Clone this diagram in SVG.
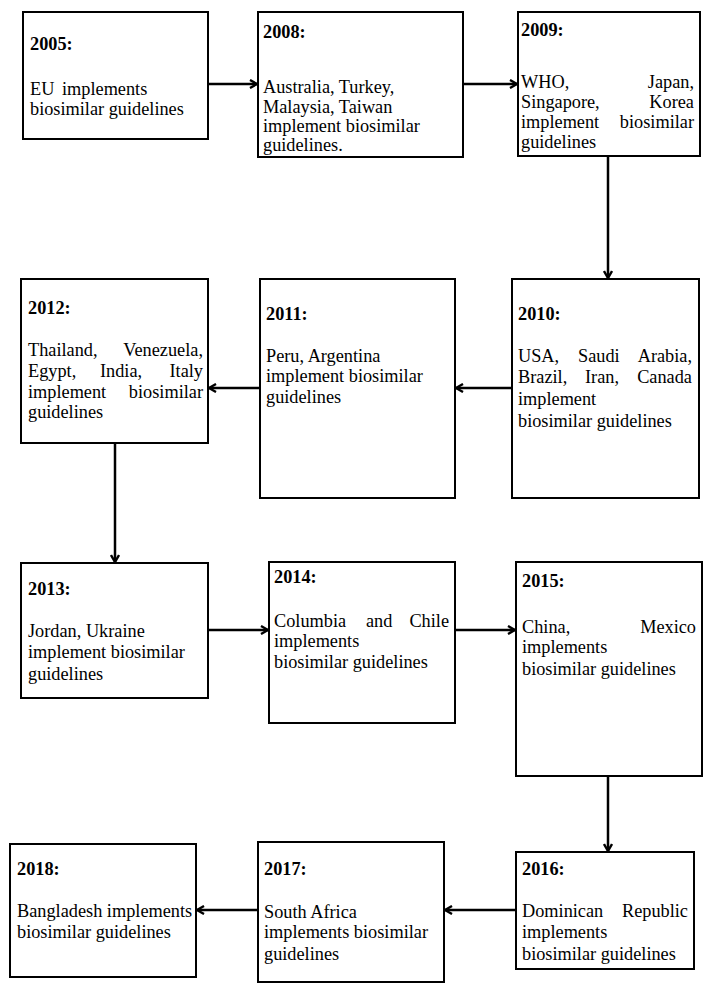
<svg xmlns="http://www.w3.org/2000/svg" width="715" height="993" viewBox="0 0 715 993">
<style>
.box{fill:#fff;stroke:#000;stroke-width:2}
text{font-family:"Liberation Serif","Times New Roman",serif;font-size:18.3px;fill:#000}
.t{font-weight:bold}
.e{text-anchor:end}
.c{stroke:#000;stroke-width:2.5;fill:none}
</style>
<defs>
<marker id="ah" viewBox="0 0 10 10" refX="9" refY="5" markerWidth="10" markerHeight="10" markerUnits="userSpaceOnUse" orient="auto">
<path d="M2,1 L9,5 L2,9" fill="none" stroke="#000" stroke-width="2.4"/>
</marker>
</defs>
<rect width="715" height="993" fill="#fff"/>
<g id="connectors">
<line class="c" x1="208" y1="84" x2="257" y2="84" marker-end="url(#ah)"/>
<line class="c" x1="463" y1="84" x2="517" y2="84" marker-end="url(#ah)"/>
<line class="c" x1="608" y1="157" x2="608" y2="278" marker-end="url(#ah)"/>
<line class="c" x1="512" y1="388" x2="456" y2="388" marker-end="url(#ah)"/>
<line class="c" x1="260" y1="388" x2="209" y2="388" marker-end="url(#ah)"/>
<line class="c" x1="115" y1="443" x2="115" y2="562" marker-end="url(#ah)"/>
<line class="c" x1="208" y1="630" x2="268" y2="630" marker-end="url(#ah)"/>
<line class="c" x1="455" y1="630" x2="515" y2="630" marker-end="url(#ah)"/>
<line class="c" x1="608" y1="776" x2="608" y2="851" marker-end="url(#ah)"/>
<line class="c" x1="516" y1="910" x2="445" y2="910" marker-end="url(#ah)"/>
<line class="c" x1="258" y1="910" x2="197" y2="910" marker-end="url(#ah)"/>
</g>
<g id="n2005">
<rect class="box" x="23" y="12" width="185" height="127"/>
<text class="t" x="30" y="50">2005:</text>
<text x="30" y="95">EU<tspan x="62">implements</tspan></text>
<text x="30" y="115">biosimilar guidelines</text>
</g>
<g id="n2008">
<rect class="box" x="258" y="12" width="205" height="145"/>
<text class="t" x="263" y="38">2008:</text>
<text x="263" y="93">Australia, Turkey,</text>
<text x="263" y="113">Malaysia, Taiwan</text>
<text x="263" y="132">implement biosimilar</text>
<text x="263" y="151">guidelines.</text>
</g>
<g id="n2009">
<rect class="box" x="518" y="12" width="182" height="144"/>
<text class="t" x="521" y="36">2009:</text>
<text x="521" y="88">WHO,</text><text class="e" x="694" y="88">Japan,</text>
<text x="521" y="108">Singapore,</text><text class="e" x="694" y="108">Korea</text>
<text x="521" y="128">implement</text><text class="e" x="694" y="128">biosimilar</text>
<text x="521" y="148">guidelines</text>
</g>
<g id="n2010">
<rect class="box" x="512" y="279" width="187" height="219"/>
<text class="t" x="518" y="320">2010:</text>
<text x="518" y="362">USA,<tspan x="578">Saudi</tspan></text><text class="e" x="692" y="362">Arabia,</text>
<text x="518" y="383">Brazil,<tspan x="585">Iran,</tspan></text><text class="e" x="692" y="383">Canada</text>
<text x="518" y="405">implement</text>
<text x="518" y="427">biosimilar guidelines</text>
</g>
<g id="n2011">
<rect class="box" x="260" y="279" width="195" height="219"/>
<text class="t" x="266" y="320">2011:</text>
<text x="266" y="362">Peru, Argentina</text>
<text x="266" y="382">implement biosimilar</text>
<text x="266" y="403">guidelines</text>
</g>
<g id="n2012">
<rect class="box" x="21" y="279" width="187" height="164"/>
<text class="t" x="28" y="314">2012:</text>
<text x="28" y="356">Thailand,</text><text class="e" x="203" y="356">Venezuela,</text>
<text x="28" y="377">Egypt,<tspan x="100">India,</tspan></text><text class="e" x="203" y="377">Italy</text>
<text x="28" y="398">implement</text><text class="e" x="203" y="398">biosimilar</text>
<text x="28" y="418">guidelines</text>
</g>
<g id="n2013">
<rect class="box" x="21" y="563" width="187" height="135"/>
<text class="t" x="28" y="595">2013:</text>
<text x="28" y="637">Jordan, Ukraine</text>
<text x="28" y="658">implement biosimilar</text>
<text x="28" y="680">guidelines</text>
</g>
<g id="n2014">
<rect class="box" x="269" y="562" width="186" height="161"/>
<text class="t" x="274" y="583">2014:</text>
<text x="274" y="627">Columbia<tspan x="366">and</tspan></text><text class="e" x="449" y="627">Chile</text>
<text x="274" y="647">implements</text>
<text x="274" y="668">biosimilar guidelines</text>
</g>
<g id="n2015">
<rect class="box" x="516" y="562" width="186" height="214"/>
<text class="t" x="522" y="587">2015:</text>
<text x="522" y="633">China,</text><text class="e" x="696" y="633">Mexico</text>
<text x="522" y="653">implements</text>
<text x="522" y="675">biosimilar guidelines</text>
</g>
<g id="n2016">
<rect class="box" x="516" y="852" width="178" height="117"/>
<text class="t" x="522" y="875">2016:</text>
<text x="522" y="917">Dominican</text><text class="e" x="688" y="917">Republic</text>
<text x="522" y="938">implements</text>
<text x="522" y="960">biosimilar guidelines</text>
</g>
<g id="n2017">
<rect class="box" x="258" y="842" width="186" height="140"/>
<text class="t" x="264" y="875">2017:</text>
<text x="264" y="918">South Africa</text>
<text x="264" y="938">implements biosimilar</text>
<text x="264" y="960">guidelines</text>
</g>
<g id="n2018">
<rect class="box" x="10" y="844" width="186" height="133"/>
<text class="t" x="17" y="875">2018:</text>
<text x="17" y="917">Bangladesh implements</text>
<text x="17" y="938">biosimilar guidelines</text>
</g>
</svg>
